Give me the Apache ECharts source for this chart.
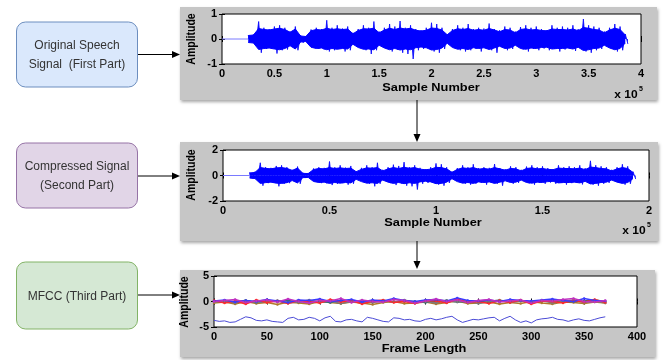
<!DOCTYPE html>
<html>
<head>
<meta charset="utf-8">
<script src="https://cdn.jsdelivr.net/npm/echarts@6.0.0/dist/echarts.min.js"></script>
<style>
  html, body { margin: 0; padding: 0; background: #fff; }
  #chart { width: 663px; height: 360px; }
</style>
</head>
<body>
<div id="chart"></div>
<script>
// waveform 1 (original speech), x in units of 1e5 samples
const sig1Start = 0.25, sig1Step = 0.05;
// peak values (spikes) above / below zero
const sig1Top = [0.15,0.18,0.70,0.45,0.40,0.50,0.55,0.45,0.30,0.50,0.15,0.12,0.38,0.45,0.40,0.75,0.45,0.55,0.42,0.50,
  0.25,0.40,0.55,0.45,0.70,0.30,0.45,0.60,0.50,0.72,0.45,0.55,0.40,0.35,0.45,0.65,0.60,0.45,0.20,0.40,
  0.55,0.45,0.60,0.40,0.45,0.42,0.62,0.40,0.35,0.50,0.45,0.30,0.48,0.55,0.45,0.50,0.40,0.35,0.55,0.45,
  0.50,0.45,0.55,0.40,0.80,0.55,0.50,0.45,0.30,0.45,0.60,0.50,0.20];
const sig1Bot = [0.12,0.15,0.55,0.40,0.38,0.58,0.45,0.42,0.30,0.45,0.15,0.12,0.35,0.40,0.42,0.50,0.45,0.40,0.50,0.45,
  0.22,0.35,0.45,0.60,0.45,0.25,0.40,0.50,0.42,0.55,0.60,0.80,0.45,0.40,0.35,0.50,0.55,0.40,0.18,0.35,
  0.45,0.50,0.45,0.40,0.50,0.38,0.45,0.55,0.30,0.45,0.40,0.28,0.42,0.50,0.40,0.45,0.38,0.45,0.40,0.50,
  0.42,0.40,0.48,0.35,0.50,0.55,0.45,0.40,0.28,0.40,0.50,0.45,0.20];
// dense body of the waveform (+/-)
const sig1Core = [0.14,0.16,0.42,0.38,0.36,0.40,0.43,0.38,0.27,0.40,0.12,0.10,0.33,0.38,0.36,0.43,0.38,0.41,0.38,0.40,
  0.21,0.34,0.41,0.40,0.43,0.25,0.36,0.43,0.38,0.44,0.40,0.43,0.35,0.32,0.35,0.44,0.42,0.36,0.17,0.34,
  0.41,0.38,0.42,0.35,0.38,0.35,0.42,0.36,0.29,0.38,0.36,0.25,0.38,0.41,0.36,0.38,0.34,0.33,0.40,0.38,
  0.38,0.36,0.40,0.33,0.46,0.43,0.38,0.36,0.25,0.36,0.43,0.38,0.16];

// waveform 2 (compressed)
const sig2Start = 0.125, sig2Step = 0.025;
const sig2Top = [0.25,0.30,1.00,0.65,0.60,0.75,0.80,0.65,0.45,0.70,0.22,0.20,0.55,0.65,0.60,1.10,0.65,0.80,0.62,0.75,
  0.35,0.60,0.80,0.65,1.00,0.45,0.65,0.85,0.75,1.05,0.65,0.80,0.60,0.50,0.65,0.95,0.88,0.65,0.30,0.58,
  0.80,0.65,0.88,0.58,0.65,0.60,0.90,0.58,0.50,0.72,0.65,0.45,0.70,0.80,0.65,0.72,0.58,0.50,0.80,0.65,
  0.72,0.65,0.80,0.58,1.15,0.80,0.72,0.65,0.45,0.65,0.88,0.72,0.30];
const sig2Bot = [0.22,0.25,0.80,0.60,0.55,0.85,0.65,0.60,0.45,0.65,0.20,0.18,0.50,0.60,0.62,0.75,0.65,0.60,0.72,0.65,
  0.32,0.50,0.65,0.85,0.65,0.38,0.60,0.75,0.62,0.80,0.85,1.10,0.65,0.58,0.50,0.72,0.80,0.58,0.26,0.50,
  0.65,0.72,0.65,0.58,0.72,0.55,0.65,0.80,0.45,0.65,0.58,0.40,0.62,0.72,0.58,0.65,0.55,0.65,0.58,0.72,
  0.60,0.58,0.70,0.50,0.72,0.80,0.65,0.58,0.40,0.58,0.72,0.65,0.28];
const sig2Core = [0.20,0.24,0.62,0.56,0.52,0.60,0.62,0.56,0.40,0.58,0.17,0.15,0.47,0.55,0.52,0.62,0.55,0.60,0.55,0.58,
  0.30,0.48,0.60,0.57,0.62,0.36,0.52,0.62,0.55,0.64,0.57,0.62,0.50,0.45,0.50,0.64,0.62,0.52,0.25,0.48,
  0.60,0.55,0.62,0.50,0.55,0.50,0.62,0.52,0.42,0.55,0.52,0.36,0.55,0.60,0.52,0.55,0.48,0.46,0.58,0.55,
  0.55,0.52,0.58,0.46,0.66,0.62,0.55,0.52,0.36,0.52,0.62,0.55,0.24];

// MFCC coefficients, every 10 frames
const mfccStep = 10;
const mfccRed    = [0.2,-0.3,0.1,-0.5,0.3,-0.2,0.1,-0.4,0.2,0.0,-0.3,0.4,-0.1,0.2,-0.5,0.1,0.3,-0.2,0.0,-0.4,0.2,0.1,-0.3,0.5,-0.1,0.0,-0.4,0.2,-0.2,0.3,-0.5,0.1,0.0,-0.3,0.2,-0.1,0.4,-0.2];
const mfccOlive  = [-0.3,-0.1,-0.5,0.0,-0.4,-0.2,-0.6,-0.1,-0.3,-0.5,0.0,-0.2,-0.4,-0.1,-0.3,-0.6,-0.2,0.0,-0.4,-0.3,-0.1,-0.5,-0.2,0.1,-0.4,-0.3,-0.1,-0.5,-0.2,-0.4,0.0,-0.3,-0.5,-0.1,-0.2,-0.4,-0.1,-0.3];
const mfccBlue   = [0.1,0.3,-0.1,0.2,0.0,0.4,0.1,-0.2,0.3,0.2,0.5,0.0,0.2,0.4,-0.1,0.3,0.1,0.6,0.2,0.0,0.3,0.4,0.1,0.7,0.2,0.1,0.3,0.0,0.4,0.2,0.1,0.3,0.5,0.2,0.0,0.6,0.2,0.1];
const mfccPurple = [0.0,0.2,0.4,-0.2,0.1,0.3,-0.1,0.5,0.0,-0.3,0.2,0.1,0.6,-0.2,0.3,0.0,-0.1,0.4,0.2,-0.3,0.1,0.5,0.0,0.3,-0.2,0.2,0.4,-0.1,0.1,0.3,-0.3,0.2,0.1,0.4,0.6,0.0,-0.1,0.2];
const mfccGray   = [-0.1,0.1,-0.3,0.2,-0.2,0.0,0.2,-0.3,-0.1,0.3,-0.2,0.1,-0.4,0.0,0.2,-0.2,0.1,-0.1,0.3,-0.2,0.0,-0.3,0.2,-0.1,0.1,-0.4,0.0,0.3,-0.2,0.1,-0.1,0.2,-0.3,0.0,0.3,-0.2,0.1,-0.3];
const mfccTeal   = [0.1,-0.1,0.0,0.2,-0.2,0.1,0.0,0.2,-0.1,0.1,0.0,-0.2,0.2,0.1,-0.1,0.0,0.2,-0.1,0.1,0.0,-0.2,0.1,0.2,-0.1,0.0,0.1,-0.2,0.1,0.0,0.2,-0.1,0.1,0.2,-0.1,0.0,0.1,0.3,0.0];
// first coefficient (the low blue trace), every 5 frames
const c0Step = 5;
const mfccC0 = [-3.7,-3.9,-3.8,-4.1,-4.0,-3.5,-3.0,-3.2,-3.7,-3.8,-3.6,-3.9,-4.0,-4.1,-3.3,-3.1,-3.6,-3.5,-3.1,-3.3,
  -3.8,-3.2,-2.9,-3.9,-4.0,-3.6,-3.5,-3.8,-4.0,-3.1,-3.3,-3.6,-3.9,-4.0,-3.2,-3.3,-3.6,-3.5,-3.8,-3.9,
  -3.5,-3.3,-3.6,-3.4,-3.1,-2.9,-3.6,-4.1,-3.8,-3.5,-3.6,-3.4,-3.2,-3.1,-3.8,-3.3,-2.9,-3.6,-4.1,-3.8,
  -4.2,-3.6,-3.4,-3.3,-3.1,-3.5,-3.6,-3.9,-3.6,-3.4,-3.7,-3.8,-3.5,-3.2,-3.0];

const boxLabels = ['Original Speech\nSignal  (First Part)', 'Compressed Signal\n(Second Part)', 'MFCC (Third Part)'];

const FONT = 'Arial, "Liberation Sans", sans-serif';

function pts(start, step, arr, sign) {
  return arr.map((v, i) => [+(start + i * step).toFixed(4), sign * v]);
}
// waveform trace: swing from the upper peak to the lower peak inside each step
function swing(start, step, top, bot) {
  const out = [];
  top.forEach((v, i) => {
    const x = start + i * step;
    out.push([+x.toFixed(4), v]);
    out.push([+(x + step / 2).toFixed(4), -bot[i]]);
  });
  return out;
}

function axesFor(g, xmin, xmax, xint, ymin, ymax, yint) {
  const tick = { show: true, inside: true, length: 3, lineStyle: { color: '#000', width: 1 } };
  const lbl = { color: '#000', fontFamily: FONT, fontWeight: 'bold', fontSize: 11 };
  return {
    x: [
      { type: 'value', gridIndex: g, min: xmin, max: xmax, interval: xint, position: 'bottom',
        axisLine: { show: false }, axisTick: tick, splitLine: { show: false },
        axisLabel: Object.assign({ margin: 4 }, lbl) },
      { type: 'value', gridIndex: g, min: xmin, max: xmax, interval: xint, position: 'top',
        axisLine: { show: false }, axisTick: tick, splitLine: { show: false }, axisLabel: { show: false } }
    ],
    y: [
      { type: 'value', gridIndex: g, min: ymin, max: ymax, interval: yint, position: 'left',
        axisLine: { show: false }, axisTick: tick, splitLine: { show: false },
        axisLabel: Object.assign({ margin: 5 }, lbl) },
      { type: 'value', gridIndex: g, min: ymin, max: ymax, interval: yint, position: 'right',
        axisLine: { show: false }, axisTick: tick, splitLine: { show: false }, axisLabel: { show: false } }
    ]
  };
}

const a1 = axesFor(0, 0, 4, 0.5, -1, 1, 1);
const a2 = axesFor(1, 0, 2, 0.5, -2, 2, 2);
const a3 = axesFor(2, 0, 400, 50, -5, 5, 5);

const gridBase = { show: true, backgroundColor: '#fff', borderColor: '#000', borderWidth: 1, containLabel: false, outerBoundsMode: 'none' };

function wave(xi, yi, start, step, top, bot, core) {
  const base = { type: 'line', xAxisIndex: xi, yAxisIndex: yi, symbol: 'none', silent: true, animation: false };
  const body = Object.assign({}, base, { lineStyle: { color: '#0000ff', width: 1 }, areaStyle: { color: '#0000ff', opacity: 1 } });
  return [
    Object.assign({}, body, { data: pts(start, step, core, 1) }),
    Object.assign({}, body, { data: pts(start, step, core, -1) }),
    Object.assign({}, base, { lineStyle: { color: '#0000ff', width: 0.8 }, areaStyle: { color: '#0000ff', opacity: 0.9 },
      data: swing(start, step, top, bot) }),
    Object.assign({}, base, { lineStyle: { color: '#7a7aff', width: 1 }, data: [[0, 0], [start, 0]] })
  ];
}

const mfccSets = [
  [mfccOlive, '#b07a2a'], [mfccTeal, '#2f6f6f'], [mfccGray, '#7a7a7a'],
  [mfccRed, '#ff2a2a'], [mfccBlue, '#3a3aff'], [mfccPurple, '#c030c0']
];

const series = [].concat(
  wave(0, 0, sig1Start, sig1Step, sig1Top, sig1Bot, sig1Core),
  wave(2, 2, sig2Start, sig2Step, sig2Top, sig2Bot, sig2Core),
  mfccSets.map(([arr, col]) => ({
    type: 'line', xAxisIndex: 4, yAxisIndex: 4, symbol: 'circle', symbolSize: 2.5, silent: true, animation: false,
    itemStyle: { color: col }, lineStyle: { color: col, width: 1.5 }, data: pts(0, mfccStep, arr, 1)
  })),
  [{ type: 'line', xAxisIndex: 4, yAxisIndex: 4, symbol: 'none', silent: true, animation: false,
     lineStyle: { color: '#4b4bd6', width: 1 }, data: pts(0, c0Step, mfccC0, 1) }]
);

// decoration: grey panels, boxes, arrows, axis titles
function panel(x, y, w, h) {
  return { type: 'rect', z: -10, shape: { x: x, y: y, width: w, height: h },
    style: { fill: '#c6c6c6', shadowBlur: 3, shadowOffsetX: 1, shadowOffsetY: 2, shadowColor: 'rgba(0,0,0,0.35)' } };
}
function box(y, h, fill, stroke, text) {
  return [
    { type: 'rect', shape: { x: 16.5, y: y, width: 121, height: h, r: 9 }, style: { fill: fill, stroke: stroke, lineWidth: 1 } },
    { type: 'text', x: 77, y: y + h / 2 + 1, style: { text: text, font: '12px ' + FONT, fill: '#333', align: 'center', verticalAlign: 'middle', lineHeight: 19 } }
  ];
}
function hArrow(x1, x2, y) {
  return [
    { type: 'line', shape: { x1: x1, y1: y, x2: x2 - 6, y2: y }, style: { stroke: '#000', lineWidth: 1 } },
    { type: 'polygon', shape: { points: [[x2, y], [x2 - 8, y - 3.5], [x2 - 8, y + 3.5]] }, style: { fill: '#000' } }
  ];
}
function vArrow(x, y1, y2) {
  return [
    { type: 'line', shape: { x1: x, y1: y1, x2: x, y2: y2 - 6 }, style: { stroke: '#000', lineWidth: 1 } },
    { type: 'polygon', shape: { points: [[x, y2], [x - 3.5, y2 - 8], [x + 3.5, y2 - 8]] }, style: { fill: '#000' } }
  ];
}
function txt(x, y, s, size, rot, sx) {
  const t = { type: 'text', x: x, y: y, rotation: rot || 0,
    style: { text: s, font: 'bold ' + size + 'px ' + FONT, fill: '#000', align: 'center', verticalAlign: 'middle' } };
  if (sx) { if (rot) t.scaleY = sx; else t.scaleX = sx; }
  return t;
}

const graphics = [].concat(
  [panel(180, 7, 477, 93), panel(180, 142, 478, 99), panel(180, 270, 475, 87)],
  box(22, 65, '#dae8fc', '#6c8ebf', boxLabels[0]),
  box(143, 65, '#e1d5e7', '#9673a6', boxLabels[1]),
  box(262, 67, '#d5e8d4', '#82b366', boxLabels[2]),
  hArrow(138, 180, 54.5), hArrow(138, 180, 176), hArrow(138, 180, 295),
  vArrow(417, 100, 142), vArrow(417, 241, 269),
  [
    txt(192, 39, 'Amplitude', 10.5, Math.PI / 2, 1.2),
    txt(431, 88, 'Sample Number', 10.5, 0, 1.22),
    txt(626, 95, 'x 10', 10, 0, 1.2), txt(641, 89, '5', 7),
    txt(192, 175, 'Amplitude', 10.5, Math.PI / 2, 1.2),
    txt(433, 223, 'Sample Number', 10.5, 0, 1.22),
    txt(634, 231, 'x 10', 10, 0, 1.2), txt(649, 225, '5', 7),
    txt(185, 302, 'Amplitude', 10.5, Math.PI / 2, 1.2),
    txt(424, 349, 'Frame Length', 10.5, 0, 1.22)
  ]
);

const chart = echarts.init(document.getElementById('chart'), null, { renderer: 'canvas' });
chart.setOption({
  animation: false,
  backgroundColor: '#fff',
  grid: [
    Object.assign({ left: 222, top: 14, width: 419, height: 50 }, gridBase),
    Object.assign({ left: 223, top: 150, width: 426, height: 51 }, gridBase),
    Object.assign({ left: 214, top: 276, width: 423, height: 51 }, gridBase)
  ],
  xAxis: [].concat(a1.x, a2.x, a3.x),
  yAxis: [].concat(a1.y, a2.y, a3.y),
  series: series,
  graphic: { elements: graphics }
});
</script>
</body>
</html>
